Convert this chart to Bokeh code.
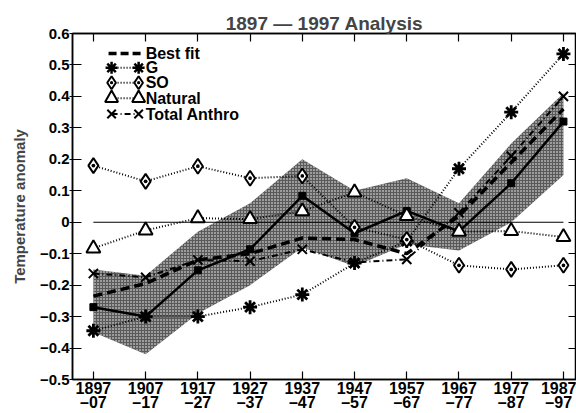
from bokeh.plotting import figure
from bokeh.models import Range1d, LinearAxis, FixedTicker
from bokeh.core.properties import value
from bokeh.embed import file_html
from bokeh.resources import INLINE

# decade-mean centres, 1897-07 ... 1987-97
years = [1897, 1907, 1917, 1927, 1937, 1947, 1957, 1967, 1977, 1987]
tick_labels = ["1897\n–07", "1907\n–17", "1917\n–27", "1927\n–37", "1937\n–47",
               "1947\n–57", "1957\n–67", "1967\n–77", "1977\n–87", "1987\n–97"]
y_ticks = [-0.5, -0.4, -0.3, -0.2, -0.1, 0.0, 0.1, 0.2, 0.3, 0.4, 0.5, 0.6]

observed = [-0.27, -0.30, -0.153, -0.086, 0.084, -0.035, 0.036, -0.029, 0.124, 0.32]
obs_upper = [-0.15, -0.17, -0.03, 0.06, 0.20, 0.10, 0.14, 0.06, 0.25, 0.41]
obs_lower = [-0.35, -0.42, -0.29, -0.20, -0.08, -0.14, -0.07, -0.09, 0.00, 0.15]

best_fit = [-0.235, -0.195, -0.12, -0.10, -0.05, -0.055, -0.10, 0.02, 0.19, 0.36]
g_signal = [-0.345, -0.30, -0.30, -0.27, -0.23, -0.13, -0.06, 0.17, 0.35, 0.535]
so_signal = [0.18, 0.13, 0.178, 0.14, 0.147, -0.016, -0.055, -0.137, -0.15, -0.137]
natural = [-0.083, -0.026, 0.013, 0.01, 0.035, 0.095, 0.02, -0.03, -0.028, -0.047]
total_anthro = [-0.163, -0.175, -0.12, -0.124, -0.086, -0.128, -0.118, 0.03, 0.21, 0.40]
baseline = [0.0] * len(years)

legend_labels = ["Best fit", "G", "SO", "Natural", "Total Anthro"]

FONT = "Liberation Sans"
X0, X1 = 1893, 1989.5
Y0, Y1 = -0.5, 0.6
FRAME_W, FRAME_H = 503, 348   # plot-area size in pixels


def fx(px):
    """Horizontal pixel offset from the frame's left edge -> data x."""
    return X0 + px * (X1 - X0) / FRAME_W


def fy(px):
    """Vertical pixel offset from the frame's top edge -> data y."""
    return Y1 - px * (Y1 - Y0) / FRAME_H


p = figure(width=576, height=413, output_backend="svg", toolbar_location=None,
           x_range=Range1d(X0, X1), y_range=Range1d(Y0, Y1),
           min_border_left=72, min_border_right=0, min_border_top=33, min_border_bottom=0)
p.background_fill_color = "white"
p.border_fill_color = "white"
p.outline_line_color = "black"
p.outline_line_width = 1.5
p.grid.visible = False

p.title.text = "1897 — 1997 Analysis"
p.title.text_font = FONT
p.title.text_font_style = "bold"
p.title.text_font_size = "19px"
p.title.align = "center"
p.title.standoff = 0

# uncertainty band around the observed record
p.varea(x=years, y1=obs_lower, y2=obs_upper, fill_color="#5a5a5a", fill_alpha=1.0,
        hatch_pattern="dot", hatch_color="white", hatch_scale=3, hatch_weight=1.2)

p.line(years, baseline, line_color="black", line_width=1.2)

# observations
p.line(years, observed, line_color="black", line_width=2.5)
p.scatter(years, observed, marker="square", size=7, fill_color="black", line_color="black")

DOTS = "1 2"
DASH = "9 5"
DASHDOT = "6 3 1 3"

p.line(years, best_fit, line_color="black", line_width=3.5, line_dash=DASH)

p.line(years, g_signal, line_color="black", line_width=2, line_dash=DOTS)
p.scatter(years, g_signal, marker="asterisk", size=14, line_color="black", line_width=2.8)

p.line(years, so_signal, line_color="black", line_width=2, line_dash=DOTS)
p.scatter(years, so_signal, marker="diamond_dot", size=15, fill_color="white",
          line_color="black", line_width=2)

p.line(years, natural, line_color="black", line_width=2, line_dash=DOTS)
p.scatter(years, natural, marker="triangle", size=14, fill_color="white",
          line_color="black", line_width=2)

p.line(years, total_anthro, line_color="black", line_width=2, line_dash=DASHDOT)
p.scatter(years, total_anthro, marker="x", size=13, line_color="black", line_width=2)

# key, top-left inside the plot area
row_px = [20, 34.5, 49.5, 65, 81]
gx0, gx1, tx = fx(39), fx(66), fx(73)
rows = [fy(r) for r in row_px]

p.line([fx(36), fx(69)], [rows[0], rows[0]], line_color="black", line_width=3.5, line_dash="8 4")
key_styles = [
    (DOTS, dict(marker="asterisk", size=12, line_color="black", line_width=2.5)),
    (DOTS, dict(marker="diamond_dot", size=13, fill_color="white", line_color="black", line_width=2)),
    (DOTS, dict(marker="triangle", size=13, fill_color="white", line_color="black", line_width=2)),
    (DASHDOT, dict(marker="x", size=12, line_color="black", line_width=2)),
]
for ry, (dash, mk) in zip(rows[1:], key_styles):
    p.line([gx0, gx1], [ry, ry], line_color="black", line_width=2, line_dash=dash)
    p.scatter([gx0, gx1], [ry, ry], **mk)

p.text(x=[tx] * len(legend_labels), y=rows, text=legend_labels,
       text_font=value(FONT), text_font_style="bold", text_font_size="16px",
       text_baseline="middle", text_align="left", text_color="black")

# axes
xa = p.xaxis[0]
xa.ticker = FixedTicker(ticks=years)
xa.major_label_overrides = {y: lab for y, lab in zip(years, tick_labels)}
ya = p.yaxis[0]
ya.ticker = FixedTicker(ticks=y_ticks)
ya.axis_label = "Temperature anomaly"

for ax in (xa, ya):
    ax.major_label_text_font = FONT
    ax.major_label_text_font_style = "bold"
    ax.major_label_text_color = "black"
    ax.axis_line_color = "black"
    ax.major_tick_line_color = "black"
    ax.minor_tick_line_color = None
    ax.axis_line_width = 1.5
    ax.major_tick_line_width = 1.2

xa.major_label_text_font_size = "16px"
xa.major_label_text_line_height = 0.85
xa.major_tick_in = 8
xa.major_tick_out = 0
xa.major_label_standoff = 0
ya.major_label_text_font_size = "15px"
ya.major_tick_in = 9
ya.major_tick_out = 3
ya.major_label_standoff = 0
ya.axis_label_text_font = FONT
ya.axis_label_text_font_style = "bold"
ya.axis_label_text_font_size = "15px"
ya.axis_label_standoff = 9

top = LinearAxis(ticker=FixedTicker(ticks=years))
right = LinearAxis(ticker=FixedTicker(ticks=y_ticks))
for ax in (top, right):
    ax.major_label_text_font_size = "0px"
    ax.major_label_standoff = 0
    ax.major_tick_in = 8
    ax.major_tick_out = 0
    ax.minor_tick_line_color = None
    ax.axis_line_color = "black"
    ax.axis_line_width = 1.5
    ax.major_tick_line_width = 1.2
p.add_layout(top, "above")
p.add_layout(right, "right")

open("out.html", "w").write(file_html(p, INLINE))
